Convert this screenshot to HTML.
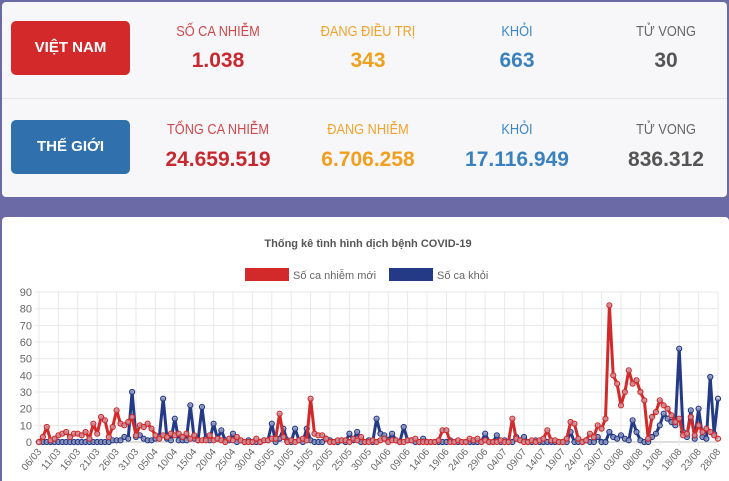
<!DOCTYPE html>
<html><head><meta charset="utf-8">
<style>
body{margin:0;width:729px;height:481px;overflow:hidden;background:#6b6aa6;font-family:"Liberation Sans",sans-serif;position:relative}
.top{position:absolute;left:2px;top:2px;width:725px;height:195px;background:#f7f7f9;border-radius:4px}
.sep{position:absolute;left:2px;top:98px;width:725px;height:1px;background:#e6e6ea}
.btn{position:absolute;left:11px;width:119px;height:54px;border-radius:5px;color:#fff;font-weight:bold;font-size:15px;line-height:54px;text-align:center}
.lab,.val{position:absolute;width:200px;margin-left:-100px;text-align:center;white-space:nowrap}
.lab{font-size:15px;transform:scaleX(.85)}
.val{font-size:21px;font-weight:bold}
.card{position:absolute;left:2px;top:217px;width:727px;height:264px;background:#fff;border-radius:4px 4px 0 0}
</style></head><body>
<div class="top"></div>
<div class="sep"></div>
<div class="btn" style="top:21px;background:#d3292b">VIỆT NAM</div>
<div class="btn" style="top:120px;background:#2f70ad">THẾ GIỚI</div>

<div class="lab" style="left:218px;top:23px;color:#d0484c">SỐ CA NHIỄM</div>
<div class="val" style="left:218px;top:49px;color:#c9282e">1.038</div>
<div class="lab" style="left:368px;top:23px;color:#f0a32a">ĐANG ĐIỀU TRỊ</div>
<div class="val" style="left:368px;top:49px;color:#f0a01e">343</div>
<div class="lab" style="left:517px;top:23px;color:#3d88c6">KHỎI</div>
<div class="val" style="left:517px;top:49px;color:#3a82bf">663</div>
<div class="lab" style="left:666px;top:23px;color:#666">TỬ VONG</div>
<div class="val" style="left:666px;top:49px;color:#555">30</div>

<div class="lab" style="left:218px;top:121px;color:#d0484c">TỔNG CA NHIỄM</div>
<div class="val" style="left:218px;top:148px;color:#c9282e">24.659.519</div>
<div class="lab" style="left:368px;top:121px;color:#f0a32a">ĐANG NHIỄM</div>
<div class="val" style="left:368px;top:148px;color:#f0a01e">6.706.258</div>
<div class="lab" style="left:517px;top:121px;color:#3d88c6">KHỎI</div>
<div class="val" style="left:517px;top:148px;color:#3a82bf">17.116.949</div>
<div class="lab" style="left:666px;top:121px;color:#666">TỬ VONG</div>
<div class="val" style="left:666px;top:148px;color:#555">836.312</div>

<div class="card"></div>
<svg id="chart" width="729" height="481" style="position:absolute;left:0;top:0">
<text x="368" y="247" text-anchor="middle" font-size="11" font-weight="bold" fill="#555">Thống kê tình hình dịch bệnh COVID-19</text>
<g><rect x="245" y="268" width="44" height="13" fill="#d22a2a"/><text x="293" y="279" font-size="11" fill="#666">Số ca nhiễm mới</text></g>
<g><rect x="389" y="268" width="44" height="13" fill="#253a87"/><text x="437" y="279" font-size="11" fill="#666">Số ca khỏi</text></g>
<g id="grid"></g><g id="lines"></g>
</svg>
<script>
const cases=[0,3,9,1,2,4,5,6,3,5,5,4,6,2,11,5,15,13,3,9,19,11,10,12,15,4,
10,9,11,8,4,2,4,3,5,4,5,3,5,2,4,1,1,1,4,1,2,1,0,2,1,3,1,0,0,0,
2,0,1,1,2,2,17,3,0,1,0,1,2,1,26,5,4,4,2,0,0,1,1,1,0,2,1,3,0,0,1,
0,1,2,0,1,1,0,0,1,1,2,0,0,0,0,0,1,7,7,0,0,1,0,0,2,1,2,0,1,0,
0,0,1,0,0,14,2,1,0,0,1,0,1,2,7,1,1,0,0,2,12,11,2,0,1,5,3,10,8,14,82,
40,35,22,30,43,35,37,30,25,2,15,18,25,22,20,16,12,14,4,5,15,4,10,6,8,6,4,2];
const recovered=[0,0,0,0,0,0,0,0,0,0,0,0,0,0,0,0,0,0,0,1,1,1,3,2,30,3,
4,2,1,1,2,3,26,2,1,14,1,1,1,22,2,1,21,2,1,11,2,7,1,1,5,0,1,0,1,0,
0,0,1,1,11,0,2,8,1,0,8,1,0,8,1,0,0,0,2,1,0,0,1,0,5,1,6,0,0,1,0,
14,5,4,1,5,1,0,9,1,1,0,0,2,0,0,0,0,0,0,1,0,0,0,0,0,0,0,0,5,0,
0,4,0,1,0,0,3,1,3,0,0,1,0,0,0,0,0,0,0,0,6,0,0,0,1,0,0,3,0,0,6,
3,2,4,2,1,13,6,1,0,0,3,5,10,17,14,12,10,56,6,3,19,2,20,3,2,39,5,26];
const yTicks=[0,10,20,30,40,50,60,70,80,90];
const monthDays=[["03",6,31],["04",1,30],["05",1,31],["06",1,30],["07",1,31],["08",1,28]];
const days=[];monthDays.forEach(m=>{for(let d=m[1];d<=m[2];d++)days.push((d<10?"0":"")+d+"/"+m[0]);});
const X0=39,X1=718,Y0=442,Y1=292,N=days.length;
const x=i=>X0+i*(X1-X0)/(N-1), y=v=>Y0-v*(Y0-Y1)/90;
const NS="http://www.w3.org/2000/svg";
const g=document.getElementById('grid'),L=document.getElementById('lines');
function mk(tag,at,p){const e=document.createElementNS(NS,tag);for(const k in at)e.setAttribute(k,at[k]);p.appendChild(e);return e;}
yTicks.forEach(t=>{
 const l=mk('line',{x1:X0-4,x2:X1,y1:y(t),y2:y(t),stroke:t==0?'#bbb':'#e8e8e8','stroke-width':1},g);
 
 
 const tx=mk('text',{x:32,y:y(t)+4,'text-anchor':'end','font-size':11,fill:'#666'},g);tx.textContent=t;
 
 
});
for(let i=0;i<N;i+=5){
 const l=mk('line',{x1:x(i),x2:x(i),y1:Y1,y2:Y0+4,stroke:'#e8e8e8','stroke-width':1},g);
 
 
 const tx=mk('text',{x:x(i)+3,y:Y0+10,'text-anchor':'end','font-size':10,fill:'#666',transform:`rotate(-50 ${x(i)+3} ${Y0+10})`},g);tx.textContent=days[i];
 
 
}
function series(vals,col,name){
 const pts=vals.map((v,i)=>x(i).toFixed(1)+','+y(v).toFixed(1)).join(' ');
 const grp=mk('g',{},L);
 
 
 mk('polyline',{points:pts,fill:'none',stroke:col,'stroke-width':3,'stroke-linejoin':'round'},grp);
 vals.forEach((v,i)=>{const c=mk('circle',{cx:x(i),cy:y(v),r:2.5,fill:'#c8c8d8',stroke:col,'stroke-width':1.2,'fill-opacity':0.6},grp);
  
  });
}
series(recovered,'#253a87','recovered-line');
series(cases,'#d22a2a','cases-line');
</script>
</body></html>
